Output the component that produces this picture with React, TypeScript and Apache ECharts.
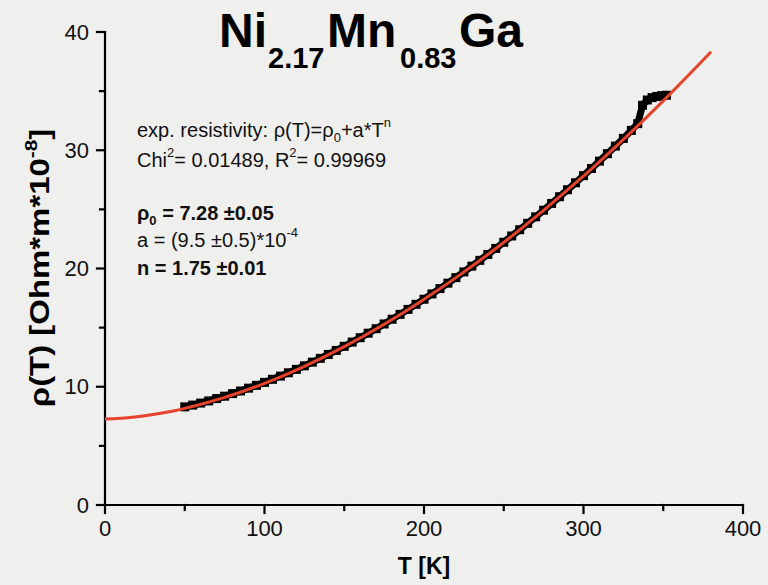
import React, { useEffect, useRef } from "react";
import * as echarts from "echarts";

// Measured resistivity of Ni2.17Mn0.83Ga (T in K, rho in Ohm*m*1e-8)
const measuredT = [
  50, 55, 60, 65, 70, 75, 80, 85, 90, 95, 100, 105, 110, 115, 120, 125, 130, 135,
  140, 145, 150, 155, 160, 165, 170, 175, 180, 185, 190, 195, 200, 205, 210, 215,
  220, 225, 230, 235, 240, 245, 250, 255, 260, 265, 270, 275, 280, 285, 290, 295,
  300, 305, 310, 315, 320, 325, 330, 334, 337, 340, 343, 346, 349, 352,
];
const measuredRho = [
  8.3, 8.45, 8.62, 8.8, 9.0, 9.2, 9.42, 9.64, 9.88, 10.12, 10.37, 10.63, 10.9,
  11.18, 11.47, 11.77, 12.08, 12.4, 12.73, 13.07, 13.42, 13.78, 14.15, 14.53,
  14.91, 15.31, 15.71, 16.12, 16.54, 16.97, 17.4, 17.85, 18.3, 18.76, 19.23,
  19.71, 20.2, 20.69, 21.19, 21.7, 22.22, 22.75, 23.28, 23.82, 24.37, 24.93,
  25.5, 26.07, 26.66, 27.25, 27.85, 28.46, 29.08, 29.71, 30.35, 31.0, 31.68,
  32.25, 33.8, 34.25, 34.45, 34.55, 34.62, 34.65,
];

// Fitted curve rho(T) = rho0 + a*T^n
const fitT = [0, 10, 20, 30, 40, 50, 75, 100, 125, 150, 175, 200, 225, 250, 275, 300, 325, 350, 380];
const fitRho = [
  7.28, 7.33, 7.46, 7.65, 7.88, 8.17, 9.1, 10.28, 11.72, 13.39, 15.28, 17.39,
  19.7, 22.21, 24.92, 27.82, 30.91, 34.18, 38.33,
];

const xTicks = [0, 100, 200, 300, 400];
const xMinorTicks = [50, 150, 250, 350];
const yTicks = [0, 10, 20, 30, 40];
const yMinorTicks = [5, 15, 25, 35];

const FONT = "Liberation Sans, Arial, Helvetica, sans-serif";
const INK = "#000000";
const RED = "#e5432b";

export default function App() {
  const ref = useRef<HTMLDivElement>(null);

  useEffect(() => {
    if (!ref.current) return;
    const chart = echarts.init(ref.current, undefined, { renderer: "svg" });

    const measured = measuredT.map((t, i) => [t, measuredRho[i]]);
    const fit = fitT.map((t, i) => [t, fitRho[i]]);

    const noteBase = { fontFamily: FONT, fontSize: 20, fill: "#111", lineHeight: 30 };
    const noteRich = {
      sub: { fontFamily: FONT, fontSize: 13, fill: "#111", verticalAlign: "top", padding: [16, 0, 0, 0] },
      sup: { fontFamily: FONT, fontSize: 13, fill: "#111", verticalAlign: "top", padding: [1, 0, 0, 0] },
      b: { fontFamily: FONT, fontSize: 20, fontWeight: "bold", fill: "#111" },
      bsub: { fontFamily: FONT, fontSize: 13, fontWeight: "bold", fill: "#111", verticalAlign: "top", padding: [16, 0, 0, 0] },
    };
    const noteLine = (text: string, top: number) => ({
      type: "text",
      left: 137,
      top,
      style: { ...noteBase, text, rich: noteRich },
    });

    const titleBig = { fontFamily: FONT, fontSize: 48, fontWeight: "bold", fill: INK };
    const titleSub = { fontFamily: FONT, fontSize: 29, fontWeight: "bold", fill: INK };
    const titlePiece = (text: string, x: number, big: boolean) => ({
      type: "text",
      x,
      y: big ? 30 : 58,
      style: {
        ...(big ? titleBig : titleSub),
        text,
        align: "left",
        verticalAlign: "middle",
        textAlign: "left",
        textVerticalAlign: "middle",
      },
    });

    const labels: any[] = [
      titlePiece("Ni", 219, true),
      titlePiece("2.17", 268, false),
      titlePiece("Mn", 327, true),
      titlePiece("0.83", 400, false),
      titlePiece("Ga", 459, true),
      {
        type: "text",
        x: 40,
        y: 268,
        rotation: Math.PI / 2,
        scaleX: 1.22,
        style: {
          text: "ρ(T) [Ohm*m*10{sup|-8}]",
          fontFamily: FONT,
          fontSize: 27,
          fontWeight: "bold",
          fill: INK,
          lineHeight: 36,
          align: "center",
          verticalAlign: "middle",
          textAlign: "center",
          textVerticalAlign: "middle",
          rich: {
            sup: { fontFamily: FONT, fontSize: 17, fontWeight: "bold", fill: INK, verticalAlign: "top", padding: [1, 0, 0, 0] },
          },
        },
      },
      noteLine("exp. resistivity: ρ(T)=ρ{sub|0}+a*T{sup|n}", 115),
      noteLine("Chi{sup|2}= 0.01489, R{sup|2}= 0.99969", 145),
      noteLine("{b|ρ}{bsub|0}{b| = 7.28 ±0.05}", 198),
      noteLine("a = (9.5 ±0.5)*10{sup|-4}", 225),
      noteLine("{b|n = 1.75 ±0.01}", 253),
    ];

    chart.setOption({
      animation: false,
      backgroundColor: "#efefed",
      grid: { left: 105, right: 25, top: 32, bottom: 80 },
      xAxis: {
        type: "value",
        min: 0,
        max: 400,
        interval: 100,
        name: "T [K]",
        nameLocation: "middle",
        nameGap: 49,
        nameTextStyle: { fontFamily: FONT, fontSize: 23, fontWeight: "bold", color: INK },
        axisLine: { show: false },
        axisTick: { show: false },
        minorTick: { show: false },
        axisLabel: {
          fontFamily: FONT,
          fontSize: 22,
          color: "#111",
          margin: 12,
          formatter: (v: number) => (xTicks.includes(v) ? String(v) : ""),
        },
        splitLine: { show: false },
      },
      yAxis: {
        type: "value",
        min: 0,
        max: 40,
        interval: 10,
        axisLine: { show: false },
        axisTick: { show: false },
        minorTick: { show: false },
        axisLabel: {
          fontFamily: FONT,
          fontSize: 22,
          color: "#111",
          margin: 16,
          formatter: (v: number) => (yTicks.includes(v) ? String(v) : ""),
        },
        splitLine: { show: false },
      },
      graphic: labels,
      series: [
        {
          name: "measured trace",
          type: "line",
          data: measured,
          showSymbol: false,
          lineStyle: { color: "#000", width: 7 },
          z: 2,
        },
        {
          name: "measured",
          type: "scatter",
          data: measured,
          symbol: "rect",
          symbolSize: 9,
          itemStyle: { color: "#000", opacity: 1 },
          z: 2,
        },
        {
          name: "fit",
          type: "line",
          data: fit,
          smooth: true,
          showSymbol: false,
          lineStyle: { color: RED, width: 3 },
          z: 3,
        },
      ],
    });

    // Axis frame and ticks, placed through the grid's own coordinate conversion
    const px = (x: number, y: number) =>
      chart.convertToPixel({ gridIndex: 0 }, [x, y]) as number[];
    const stroke = { stroke: INK, lineWidth: 2.2, lineCap: "square" };
    const seg = (x1: number, y1: number, x2: number, y2: number) => ({
      type: "line",
      z: 1,
      shape: { x1, y1, x2, y2 },
      style: stroke,
    });
    const [ox, oy] = px(0, 0);
    const [xEnd] = px(400, 0);
    const [, yTop] = px(0, 40);
    const frame: any[] = [seg(ox, oy, xEnd, oy), seg(ox, oy, ox, yTop)];
    xTicks.forEach((v) => {
      const [x] = px(v, 0);
      frame.push(seg(x, oy, x, oy + 8));
    });
    xMinorTicks.forEach((v) => {
      const [x] = px(v, 0);
      frame.push(seg(x, oy, x, oy + 5));
    });
    yTicks.forEach((v) => {
      const [, y] = px(0, v);
      frame.push(seg(ox - 8, y, ox, y));
    });
    yMinorTicks.forEach((v) => {
      const [, y] = px(0, v);
      frame.push(seg(ox - 5, y, ox, y));
    });
    chart.setOption({ graphic: [...labels, ...frame] });

    return () => chart.dispose();
  }, []);

  return (
    <div
      ref={ref}
      style={{ position: "fixed", left: 0, top: 0, width: 768, height: 585, background: "#efefed" }}
    />
  );
}
